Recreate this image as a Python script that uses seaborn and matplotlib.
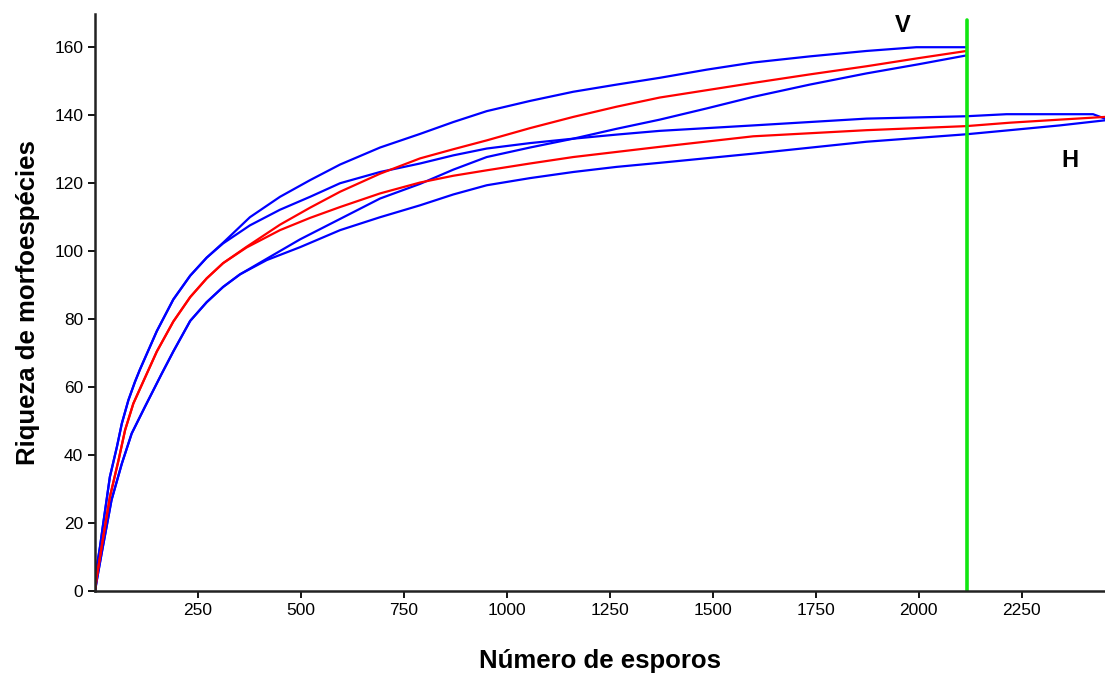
import matplotlib
matplotlib.use("Agg")
import matplotlib.pyplot as plt
import seaborn as sns

# ---- data (x = number of spores, y = richness) ----
v_up_x = [0, 4, 12, 20, 36, 53, 65, 81, 97, 109, 150, 190, 231, 271, 311, 376, 449, 522, 595, 692, 789, 870, 951, 1056, 1161, 1266, 1371, 1485, 1598, 1735, 1873, 1994, 2116]
v_up_y = [0, 7, 13, 20, 33.6, 42.4, 49.3, 56.2, 61.6, 65.2, 76.5, 85.8, 92.8, 98.1, 102.5, 110, 116, 120.9, 125.5, 130.5, 134.5, 138, 141.2, 144.2, 146.9, 149, 151, 153.4, 155.5, 157.3, 158.9, 160, 160]

h_up_x = [0, 4, 12, 20, 36, 53, 65, 81, 97, 109, 150, 190, 231, 271, 311, 376, 449, 522, 595, 692, 789, 870, 951, 1056, 1161, 1266, 1371, 1598, 1873, 2116, 2213, 2423, 2452]
h_up_y = [0, 7, 13, 20, 33.6, 42.4, 49.3, 56.2, 61.6, 65.2, 76.5, 85.8, 92.8, 98.1, 102.3, 107.6, 112.2, 116, 120, 123.3, 125.8, 128.2, 130.2, 131.8, 133.1, 134.3, 135.4, 137, 139, 139.7, 140.3, 140.3, 139]

v_mean_x = [0, 4, 20, 36, 57, 73, 93, 109, 150, 190, 231, 271, 311, 368, 449, 522, 595, 692, 789, 870, 951, 1056, 1161, 1266, 1371, 1598, 1735, 1873, 2000, 2116]
v_mean_y = [0, 4, 16, 27.7, 38.5, 47.4, 55.2, 59.5, 70.5, 79.3, 86.5, 92, 96.5, 101.3, 107.8, 112.8, 117.5, 122.8, 127.3, 130, 132.6, 136.2, 139.5, 142.5, 145.2, 149.5, 152, 154.4, 156.8, 158.9]

h_mean_x = [0, 4, 20, 36, 57, 73, 93, 109, 150, 190, 231, 271, 311, 368, 449, 522, 595, 692, 789, 870, 951, 1056, 1161, 1371, 1598, 1873, 2116, 2221, 2342, 2452]
h_mean_y = [0, 4, 16, 27.7, 38.5, 47.4, 55.2, 59.5, 70.5, 79.3, 86.5, 92, 96.5, 101.1, 106.2, 109.8, 113, 117, 120.2, 122.2, 123.8, 125.8, 127.7, 130.7, 133.8, 135.6, 136.8, 137.8, 138.7, 139.5]

v_low_x = [0, 4, 16, 40, 65, 89, 121, 162, 190, 231, 271, 311, 352, 417, 498, 595, 692, 789, 870, 951, 1056, 1161, 1266, 1371, 1485, 1598, 1735, 1873, 2000, 2116]
v_low_y = [0, 3, 11.1, 26.8, 37.5, 46.4, 54.2, 64, 70.5, 79.5, 85, 89.5, 93.2, 97.8, 103.5, 109.5, 115.5, 119.8, 124, 127.7, 130.5, 133.1, 136, 138.7, 142, 145.4, 149, 152.3, 155, 157.6]

h_low_x = [0, 4, 16, 40, 65, 89, 121, 162, 190, 231, 271, 311, 352, 417, 498, 595, 692, 789, 870, 951, 1056, 1161, 1266, 1371, 1598, 1873, 2116, 2221, 2342, 2452]
h_low_y = [0, 3, 11.1, 26.8, 37.5, 46.4, 54.2, 64, 70.5, 79.5, 85, 89.5, 93.2, 97.4, 101.2, 106.2, 110, 113.5, 116.7, 119.4, 121.5, 123.3, 124.8, 126, 128.7, 132.2, 134.4, 135.6, 137, 138.5]

cut_x = [2117, 2117]
cut_y = [0, 168]

x_ticks = [250, 500, 750, 1000, 1250, 1500, 1750, 2000, 2250]
y_ticks = [0, 20, 40, 60, 80, 100, 120, 140, 160]

# ---- style ----
sns.set_style("ticks")
plt.rcParams["font.family"] = ["Liberation Sans", "DejaVu Sans"]

fig = plt.figure(figsize=(11.05, 6.78), dpi=100)
ax = fig.add_axes([0.086, 0.128, 0.914, 0.851])

blue = "#0000ff"
red = "#ff0000"
lw = 1.6
for xs, ys, c in [(v_up_x, v_up_y, blue), (h_up_x, h_up_y, blue),
                  (v_low_x, v_low_y, blue), (h_low_x, h_low_y, blue),
                  (v_mean_x, v_mean_y, red), (h_mean_x, h_mean_y, red)]:
    sns.lineplot(x=xs, y=ys, color=c, lw=lw, ax=ax, sort=False, estimator=None)

sns.lineplot(x=cut_x, y=cut_y, color="#11e611", lw=2.6, ax=ax, sort=False, estimator=None)

ax.text(1961, 166.5, "V", fontsize=17, fontweight="bold", ha="center", va="center", color="black")
ax.text(2366, 126.8, "H", fontsize=17, fontweight="bold", ha="center", va="center", color="black")

ax.set_xlim(0, 2452)
ax.set_ylim(0, 169.7)
ax.set_xticks(x_ticks)
ax.set_xticklabels([str(t) for t in x_ticks])
ax.set_yticks(y_ticks)
ax.set_yticklabels([str(t) for t in y_ticks])
ax.tick_params(axis="both", labelsize=12.5, length=5, width=1.3, color="black",
               labelcolor="black", direction="out")

for s in ["top", "right"]:
    ax.spines[s].set_visible(False)
for s in ["left", "bottom"]:
    ax.spines[s].set_linewidth(1.8)
    ax.spines[s].set_color("#222222")

ax.set_xlabel("Número de esporos", fontsize=18.5, fontweight="bold", labelpad=22, color="black")
ax.set_ylabel("Riqueza de morfoespécies", fontsize=18.5, fontweight="bold", labelpad=10, color="black")

fig.savefig("out.png", dpi=100, facecolor="white")
